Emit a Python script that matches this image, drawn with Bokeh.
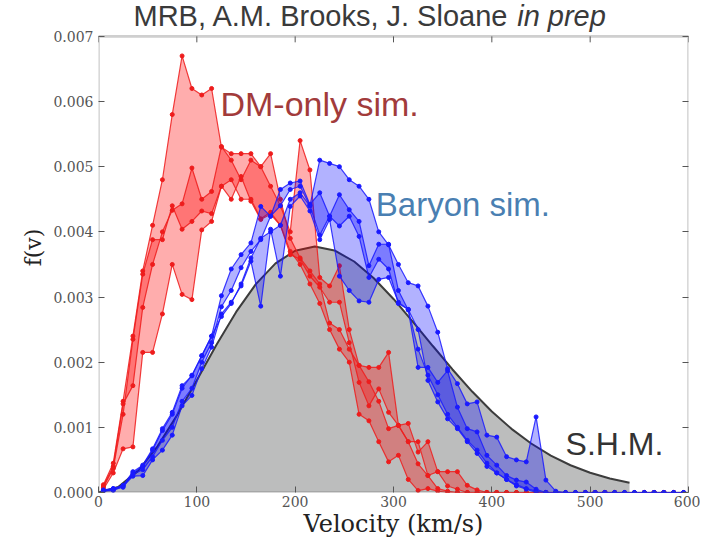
from bokeh.plotting import figure
from bokeh.models import (Label, LinearAxis, FixedTicker, PrintfTickFormatter,
                          CustomJSTickFormatter, BoxAnnotation)
from bokeh.embed import file_html
from bokeh.resources import INLINE

# ---------------- data ----------------
velocity = [5, 15, 25, 35, 45, 55, 65, 75, 85, 95,
            105, 115, 125, 135, 145, 155, 165, 175, 185, 195,
            205, 215, 225, 235, 245, 255, 265, 275, 285, 295,
            305, 315, 325, 335, 345, 355, 365, 375, 385, 395,
            405, 415, 425, 435, 445, 455, 465, 475, 485, 495,
            505, 515, 525, 535, 545, 555, 565, 575, 585, 595]

# DM-only simulations (red)
dm_1 = [0.00012, 0.00045, 0.0014, 0.0024, 0.0034, 0.0041, 0.0048, 0.0058, 0.0067, 0.0062,
        0.0061, 0.0062, 0.0053, 0.0052, 0.0052, 0.0052, 0.0050, 0.0052, 0.0045, 0.0039,
        0.0036, 0.0034, 0.0032, 0.0026, 0.0025, 0.0022, 0.00195, 0.0017, 0.0014, 0.00098,
        0.00103, 0.00078, 0.00044, 0.00026, 0.00006, 0.00002, 0.0, 0.0, 0.0, 0.0,
        0.0, 0.0, 0.0, 0.0, 0.0, 0.0, 0.0, 0.0, 0.0, 0.0,
        0.0, 0.0, 0.0, 0.0, 0.0, 0.0, 0.0, 0.0, 0.0, 0.0]
dm_2 = [0.00005, 0.0003, 0.00067, 0.0007, 0.00215, 0.00215, 0.00274, 0.0035, 0.00304, 0.00296,
        0.00403, 0.00416, 0.0047, 0.0048, 0.0045, 0.0045, 0.0042, 0.0043, 0.0041, 0.0037,
        0.0035, 0.0032, 0.0029, 0.0025, 0.0022, 0.0020, 0.0012, 0.0011, 0.00078, 0.00047,
        0.00057, 0.0002, 0.00003, 0.00006, 0.00002, 0.0, 0.0, 0.0, 0.0, 0.0,
        0.0, 0.0, 0.0, 0.0, 0.0, 0.0, 0.0, 0.0, 0.0, 0.0,
        0.0, 0.0, 0.0, 0.0, 0.0, 0.0, 0.0, 0.0, 0.0, 0.0]
dm_3 = [0.0001, 0.0004, 0.00136, 0.00164, 0.00284, 0.0035, 0.0040, 0.00433, 0.00443, 0.00498,
        0.0045, 0.00462, 0.00531, 0.0051, 0.0048, 0.0051, 0.0050, 0.0047, 0.0044, 0.0040,
        0.0054, 0.00495, 0.0033, 0.00317, 0.00348, 0.0025, 0.00195, 0.00192, 0.00192, 0.00215,
        0.00103, 0.00106, 0.00062, 0.00078, 0.00032, 0.00032, 0.00032, 0.00011, 0.00004, 0.0,
        0.0, 0.0, 0.0, 0.0, 0.0, 0.0, 0.0, 0.0, 0.0, 0.0,
        0.0, 0.0, 0.0, 0.0, 0.0, 0.0, 0.0, 0.0, 0.0, 0.0]
dm_4 = [0.00008, 0.00037, 0.0012, 0.00235, 0.00335, 0.00388, 0.00388, 0.0044, 0.00404, 0.00416,
        0.00432, 0.00428, 0.0047, 0.0045, 0.00485, 0.00447, 0.00419, 0.00427, 0.0041, 0.00365,
        0.00358, 0.00332, 0.00315, 0.00292, 0.00292, 0.0023, 0.00169, 0.00133, 0.00159, 0.00123,
        0.00103, 0.00078, 0.00078, 0.00026, 0.00032, 0.0001, 0.00005, 0.0, 0.0, 0.0,
        0.0, 0.0, 0.0, 0.0, 0.0, 0.0, 0.0, 0.0, 0.0, 0.0,
        0.0, 0.0, 0.0, 0.0, 0.0, 0.0, 0.0, 0.0, 0.0, 0.0]

# Baryon simulations (blue)
bar_1 = [0.00003, 0.00006, 0.0001, 0.0003, 0.0004, 0.00065, 0.00095, 0.0012, 0.0016, 0.0018,
         0.0021, 0.0024, 0.0027, 0.0029, 0.0032, 0.0036, 0.0039, 0.0040, 0.0041, 0.0045,
         0.0046, 0.0044, 0.0051, 0.00505, 0.0050, 0.0048, 0.0047, 0.0045, 0.0040, 0.0038,
         0.0035, 0.00322, 0.00317, 0.00286, 0.00246, 0.0019, 0.00167, 0.00136, 0.00139, 0.00088,
         0.00085, 0.00055, 0.0005, 0.00047, 0.00116, 0.00019, 0.00002, 0.0, 0.0, 0.0,
         0.0, 0.0, 0.0, 0.0, 0.0, 0.0, 0.0, 0.0, 0.0, 0.0]
bar_2 = [0.00002, 0.00003, 0.0001, 0.00025, 0.00026, 0.0005, 0.00065, 0.00088, 0.00133, 0.00149,
         0.0019, 0.00223, 0.00274, 0.00292, 0.00317, 0.00355, 0.00286, 0.00404, 0.00332, 0.00439,
         0.00455, 0.00432, 0.00388, 0.00419, 0.00332, 0.0031, 0.00294, 0.00292, 0.00327, 0.0033,
         0.00292, 0.00281, 0.0025, 0.00172, 0.00139, 0.00113, 0.00098, 0.00078, 0.0006, 0.0004,
         0.0003, 0.0002, 0.0001, 0.00005, 0.0, 0.0, 0.0, 0.0, 0.0, 0.0,
         0.0, 0.0, 0.0, 0.0, 0.0, 0.0, 0.0, 0.0, 0.0, 0.0]
bar_3 = [0.00004, 0.00006, 0.00011, 0.00032, 0.00042, 0.00067, 0.00098, 0.00123, 0.00164, 0.00179,
         0.0021, 0.0024, 0.00302, 0.00343, 0.00365, 0.00383, 0.00439, 0.00424, 0.00465, 0.00475,
         0.00478, 0.00442, 0.0046, 0.00424, 0.00457, 0.00434, 0.00416, 0.00348, 0.00381, 0.00381,
         0.0031, 0.0028, 0.00192, 0.00192, 0.00169, 0.00187, 0.00131, 0.00098, 0.00093, 0.00057,
         0.00042, 0.00026, 0.00019, 0.00016, 0.00005, 0.0, 0.0, 0.0, 0.0, 0.0,
         0.0, 0.0, 0.0, 0.0, 0.0, 0.0, 0.0, 0.0, 0.0, 0.0]
bar_4 = [0.00003, 0.00004, 0.00008, 0.00028, 0.00035, 0.00055, 0.0008, 0.001, 0.0014, 0.0016,
         0.002, 0.0023, 0.00285, 0.0031, 0.00345, 0.0037, 0.00388, 0.00424, 0.0044, 0.00465,
         0.0047, 0.0044, 0.00395, 0.00424, 0.00409, 0.00424, 0.00393, 0.0033, 0.00358, 0.00343,
         0.0029, 0.00281, 0.0022, 0.0018, 0.0015, 0.0012, 0.001, 0.0008, 0.00065, 0.00045,
         0.0003, 0.0002, 0.00012, 0.00006, 0.00002, 0.0, 0.0, 0.0, 0.0, 0.0,
         0.0, 0.0, 0.0, 0.0, 0.0, 0.0, 0.0, 0.0, 0.0, 0.0]

# Standard Halo Model curve
shm_v = [0, 20, 40, 60, 80, 100, 120, 140, 160, 180, 200, 220, 240, 260,
         280, 300, 320, 340, 360, 380, 400, 420, 440, 460, 480, 500, 520, 540]
shm_f = [0.0, 0.000084, 0.000328, 0.000708, 0.001189, 0.001724, 0.002267, 0.002771,
         0.003197, 0.003516, 0.003710, 0.003775, 0.003714, 0.003545, 0.003288, 0.002970,
         0.002615, 0.002248, 0.001888, 0.001549, 0.001244, 0.000977, 0.000752, 0.000566,
         0.000418, 0.000303, 0.000215, 0.000150]
shm_zero = [0.0] * len(shm_v)

x_ticks = [0, 100, 200, 300, 400, 500, 600]
y_ticks = [0.0, 0.001, 0.002, 0.003, 0.004, 0.005, 0.006, 0.007]
X_MIN, X_MAX, Y_MIN, Y_MAX = 0, 600, 0.0, 0.007

title_main = "MRB, A.M. Brooks, J. Sloane"
title_ital = "in prep"
x_label = "Velocity (km/s)"
y_label = "f(v)"

# ---------------- figure ----------------
# The visible axes box is [0,600] x [0,0.007]; the frame extends a little above
# it so that the title (which sits just above the box) can be drawn as a Label.
px_per_unit = 458.0 / Y_MAX          # box height in pixels / data height
frame_top_extra = 34.0               # pixels of frame above the box
y_end = Y_MAX + frame_top_extra / px_per_unit

p = figure(width=700, height=540, x_range=(X_MIN, X_MAX), y_range=(Y_MIN, y_end),
           output_backend="svg", toolbar_location=None,
           min_border_left=98, min_border_right=12, min_border_top=2,
           min_border_bottom=46, background_fill_color="white",
           border_fill_color="white")
p.xgrid.visible = False
p.ygrid.visible = False
p.outline_line_color = None

# SHM
p.varea(x=shm_v, y1=shm_zero, y2=shm_f, fill_color="#bcbdbd")
p.line(shm_v, shm_f, line_color="#3c3c3c", line_width=2)

RED = "#ee1c1c"
BLUE = "#1a1aff"
for a, b in [(dm_1, dm_2), (dm_3, dm_4)]:
    p.varea(x=velocity, y1=a, y2=b, fill_color="red", fill_alpha=0.32)
for s in [dm_1, dm_2, dm_3, dm_4]:
    p.line(velocity, s, line_color=RED, line_width=1.2, line_alpha=0.85)
    p.scatter(velocity, s, size=4, color=RED)

for a, b in [(bar_1, bar_2), (bar_3, bar_4)]:
    p.varea(x=velocity, y1=a, y2=b, fill_color="blue", fill_alpha=0.3)
for s in [bar_1, bar_2, bar_3, bar_4]:
    p.line(velocity, s, line_color=BLUE, line_width=1.2, line_alpha=0.85)
    p.scatter(velocity, s, size=4, color=BLUE)

# axes box and top ticks
p.add_layout(BoxAnnotation(left=X_MIN, right=X_MAX, bottom=Y_MIN, top=Y_MAX,
                           fill_alpha=0, line_color="#606060", line_width=2.6))
tick_len = 6.0 / px_per_unit
p.segment(x0=x_ticks, y0=[Y_MAX] * len(x_ticks), x1=x_ticks,
          y1=[Y_MAX - tick_len] * len(x_ticks), line_color="#555555", line_width=1)

# axes styling
def style_axis(ax):
    ax.axis_line_color = None
    ax.major_tick_in = 6
    ax.major_tick_out = 0
    ax.major_tick_line_color = "#555555"
    ax.minor_tick_line_color = None
    ax.major_label_text_font = "DejaVu Serif"
    ax.major_label_text_font_size = "14px"
    ax.major_label_text_color = "#555555"
    ax.axis_label_text_font = "DejaVu Serif"
    ax.axis_label_text_font_style = "normal"
    ax.axis_label_text_color = "#222222"

p.xaxis.ticker = FixedTicker(ticks=x_ticks)
p.yaxis.ticker = FixedTicker(ticks=y_ticks)
p.yaxis.formatter = PrintfTickFormatter(format="%.3f")
style_axis(p.xaxis[0])
style_axis(p.yaxis[0])
p.xaxis.axis_label = x_label
p.yaxis.axis_label = y_label
p.xaxis.axis_label_text_font_size = "24px"
p.yaxis.axis_label_text_font_size = "22px"
p.xaxis.major_label_standoff = 3
p.xaxis.axis_label_standoff = 0
p.yaxis.major_label_standoff = 5
p.yaxis.axis_label_standoff = 4

blank = CustomJSTickFormatter(code="return ''")
right = LinearAxis(ticker=FixedTicker(ticks=y_ticks), formatter=blank)
style_axis(right)
right.major_label_text_font_size = "1px"
p.add_layout(right, "right")

# annotations
p.add_layout(Label(x=124, y=0.00596, text="DM-only sim.", text_font="Liberation Sans",
                   text_font_size="34px", text_color="#a23b3b",
                   text_baseline="middle"))
p.add_layout(Label(x=282, y=0.00442, text="Baryon sim.", text_font="Liberation Sans",
                   text_font_size="33px", text_color="#4a7fb2",
                   text_baseline="middle"))
p.add_layout(Label(x=475, y=0.00075, text="S.H.M.", text_font="Liberation Sans",
                   text_font_size="32px", text_color="#333333",
                   text_baseline="middle"))
p.add_layout(Label(x=35.6, y=0.00732, text=title_main, text_font="Liberation Sans",
                   text_font_size="29px", text_color="#3a3a3a",
                   text_baseline="middle"))
p.add_layout(Label(x=425.8, y=0.00732, text=title_ital, text_font="Liberation Sans",
                   text_font_size="29px", text_font_style="italic", text_color="#3a3a3a",
                   text_baseline="middle"))

open("out.html", "w").write(file_html(p, INLINE))
